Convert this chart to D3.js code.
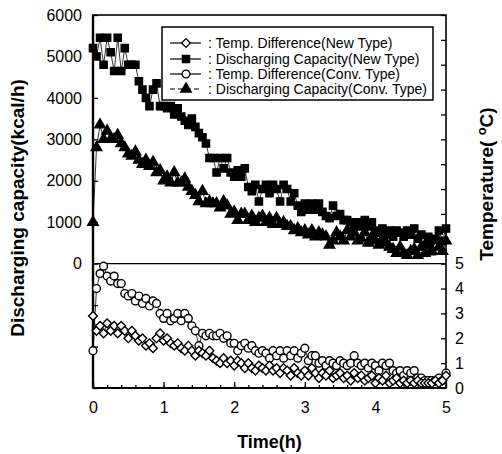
<!DOCTYPE html>
<html>
<head>
<meta charset="utf-8">
<script src="https://cdn.jsdelivr.net/npm/d3@7"></script>
<style>
  body { margin: 0; background: #fff; }
  text { font-family: "Liberation Sans", Arial, sans-serif; fill: #000; }
</style>
</head>
<body>
<div id="chart"></div>
<script>
// time step 0.05 h, 0 .. 5 h
const time = d3.range(0, 101).map(i => i * 0.05);

const capNew = [5200,5000,5450,4800,5450,5100,4650,5450,4650,5200,
  4800,4800,4800,4400,4200,4000,3800,4200,4350,3800,
  3800,3750,3800,3600,3750,3550,3450,3350,3500,3300,
  3150,3050,2900,2550,2550,2200,2550,2300,2550,2200,
  2100,2250,2100,2300,1850,1750,1900,1500,1800,1900,
  1700,1900,1800,1500,1900,1800,1500,1700,1400,1250,
  1450,1300,1450,1300,1450,1250,1150,1100,1400,1150,
  1200,1050,1050,1000,900,1000,900,1050,900,1000,
  800,750,850,700,800,650,800,750,650,800,
  700,850,600,700,450,650,300,600,800,550,850];

const capConv = [1000,2800,3350,3000,3200,3000,3000,3100,2900,2800,
  2650,2600,2700,2500,2400,2500,2350,2450,2200,2250,
  2000,2100,1950,2200,1950,1950,2050,1850,1750,1650,
  1500,1750,1450,1500,1450,1450,1350,1500,1400,1200,
  1250,1050,1200,1200,1050,1150,1000,1100,1150,1000,
  1100,950,1100,950,1000,900,900,800,850,750,
  800,700,800,650,750,700,650,450,550,750,
  650,550,800,650,750,550,600,750,500,650,
  550,450,600,500,400,350,250,400,250,200,
  300,350,200,400,250,500,300,550,400,300,550];

const tempConv = [1.5,4.0,4.6,4.9,4.5,4.3,4.5,4.2,4.2,3.8,
  3.7,3.8,3.5,3.7,3.4,3.6,3.3,3.5,3.4,3.0,
  2.8,3.0,2.7,2.8,3.0,2.7,3.0,2.8,2.5,2.3,
  1.7,2.2,2.1,2.2,2.1,2.1,2.2,2.0,2.1,1.8,
  1.8,1.5,1.7,1.8,1.6,1.7,1.5,1.4,1.5,1.4,
  1.2,1.5,1.3,1.5,1.2,1.5,1.3,1.5,1.2,1.4,
  1.6,1.1,1.3,1.3,1.0,1.1,0.9,1.1,1.0,0.9,
  1.1,1.0,0.9,1.0,1.3,1.0,0.9,1.0,0.8,1.0,
  0.9,0.7,1.0,0.9,1.0,0.7,0.6,0.7,0.5,0.7,
  0.6,0.7,0.4,0.4,0.3,0.3,0.3,0.3,0.4,0.3,0.6];

const tempNew = [2.9,2.3,2.5,2.2,2.6,2.3,2.5,2.2,2.5,2.3,
  2.0,2.3,2.1,1.9,2.0,1.7,1.8,1.6,2.0,2.2,
  1.9,2.0,1.8,1.7,1.8,1.6,1.5,1.7,1.5,1.3,
  1.5,1.4,1.3,1.5,1.2,1.1,1.0,1.2,1.0,1.1,
  0.9,1.1,1.0,0.8,1.0,0.8,0.7,0.9,0.8,0.7,
  0.9,0.7,0.8,0.6,0.8,0.7,0.5,0.8,0.6,0.5,
  0.7,0.5,0.8,0.6,0.4,0.6,0.5,0.7,0.4,0.5,
  0.6,0.4,0.5,0.3,0.6,0.4,0.5,0.3,0.4,0.5,
  0.2,0.4,0.3,0.5,0.2,0.3,0.4,0.2,0.3,0.2,
  0.3,0.2,0.3,0.2,0.2,0.2,0.2,0.3,0.2,0.3,0.5];

const capTicks = d3.range(-3000, 6001, 1000);
const tempTicks = d3.range(0, 16, 1);
const timeTicks = [0, 1, 2, 3, 4, 5];
const legendLabels = [
  ": Temp. Difference(New Type)",
  ": Discharging Capacity(New Type)",
  ": Temp. Difference(Conv. Type)",
  ": Discharging Capacity(Conv. Type)"
];

const width = 502, height = 454;
const margin = { left: 93, right: 446, top: 15, bottom: 388 };

const svg = d3.select("#chart").append("svg")
  .attr("width", width)
  .attr("height", height);

const x = d3.scaleLinear().domain([0, 5]).range([margin.left, margin.right]);
const yCap = d3.scaleLinear().domain([-3000, 6000]).range([margin.bottom, margin.top]);
const yTemp = d3.scaleLinear().domain([0, 15]).range([margin.bottom, margin.top]);

// axes
svg.append("g")
  .attr("transform", `translate(${margin.left},0)`)
  .call(d3.axisLeft(yCap).tickValues(capTicks).tickSize(-5).tickSizeOuter(0).tickPadding(11)
    .tickFormat(d => d >= 0 ? d : ""))
  .call(g => g.select(".domain").remove());

svg.append("g")
  .attr("transform", `translate(${margin.right},0)`)
  .call(d3.axisRight(yTemp).tickValues(tempTicks).tickSize(-5).tickSizeOuter(0).tickPadding(9)
    .tickFormat(d => d <= 5 ? d : ""))
  .call(g => g.select(".domain").remove());

svg.append("g")
  .attr("transform", `translate(0,${margin.bottom})`)
  .call(d3.axisBottom(x).tickValues(d3.range(0, 26).map(i => i * 0.2)).tickSize(-3).tickFormat(""))
  .call(g => g.select(".domain").remove());

svg.append("g")
  .attr("transform", `translate(0,${margin.bottom})`)
  .call(d3.axisBottom(x).tickValues(timeTicks).tickSize(-6).tickPadding(14).tickFormat(d3.format("d")))
  .call(g => g.select(".domain").remove());

svg.selectAll(".tick line").attr("stroke", "#000").attr("stroke-width", 1.3);
svg.selectAll(".tick text").style("font-size", "16px").attr("fill", "#000");

// frame and panel separator
svg.append("rect")
  .attr("x", margin.left).attr("y", margin.top)
  .attr("width", margin.right - margin.left).attr("height", margin.bottom - margin.top)
  .attr("fill", "none").attr("stroke", "#000").attr("stroke-width", 1.6);
svg.append("line")
  .attr("x1", margin.left).attr("x2", margin.right)
  .attr("y1", yCap(0)).attr("y2", yCap(0))
  .attr("stroke", "#000").attr("stroke-width", 1.4);
svg.append("line")
  .attr("x1", margin.left).attr("x2", margin.left).attr("y1", margin.top).attr("y2", margin.bottom)
  .attr("stroke", "#000").attr("stroke-width", 2.4);
svg.append("line")
  .attr("x1", margin.left).attr("x2", margin.right).attr("y1", margin.bottom).attr("y2", margin.bottom)
  .attr("stroke", "#000").attr("stroke-width", 2.2);

// series
const series = [
  { values: tempNew, y: yTemp, shape: d3.symbolSquare, size: 38, rotate: 45, fill: "#fff", dash: null },
  { values: capNew, y: yCap, shape: d3.symbolSquare, size: 52, rotate: 0, fill: "#000", dash: null },
  { values: tempConv, y: yTemp, shape: d3.symbolCircle, size: 48, rotate: 0, fill: "#fff", dash: null },
  { values: capConv, y: yCap, shape: d3.symbolTriangle, size: 48, rotate: 0, fill: "#000", dash: "5,3" }
];

const plot = svg.append("g");
const order = [1, 3, 2, 0];
order.forEach(k => {
  const s = series[k];
  plot.append("path")
    .datum(s.values)
    .attr("fill", "none")
    .attr("stroke", "#000")
    .attr("stroke-width", 0.8)
    .attr("d", d3.line().x((d, i) => x(time[i])).y(d => s.y(d)));
});
order.forEach(k => {
  const s = series[k];
  plot.selectAll(null)
    .data(s.values)
    .enter().append("path")
    .attr("transform", (d, i) => `translate(${x(time[i])},${s.y(d)}) rotate(${s.rotate})`)
    .attr("d", d3.symbol().type(s.shape).size(s.size))
    .attr("fill", s.fill)
    .attr("stroke", "#000")
    .attr("stroke-width", 1.4);
});

// legend
const legend = svg.append("g");
legend.append("rect")
  .attr("x", 162).attr("y", 27).attr("width", 271).attr("height", 73)
  .attr("fill", "#fff").attr("stroke", "#000").attr("stroke-width", 1.5);
const rowY = [43, 59, 74, 89];
series.forEach((s, k) => {
  legend.append("line")
    .attr("x1", 170).attr("x2", 201)
    .attr("y1", rowY[k]).attr("y2", rowY[k])
    .attr("stroke", "#000").attr("stroke-width", 1.2)
    .attr("stroke-dasharray", s.dash);
  legend.append("path")
    .attr("transform", `translate(186,${rowY[k]}) rotate(${s.rotate})`)
    .attr("d", d3.symbol().type(s.shape).size(s.size))
    .attr("fill", s.fill)
    .attr("stroke", "#000")
    .attr("stroke-width", 1.3);
  legend.append("text")
    .attr("x", 208).attr("y", rowY[k])
    .attr("dy", "0.35em")
    .style("font-size", "14px")
    .text(legendLabels[k]);
});

// axis titles
svg.append("text")
  .attr("x", (margin.left + margin.right) / 2).attr("y", 448)
  .attr("text-anchor", "middle")
  .style("font-size", "18px").style("font-weight", "bold")
  .text("Time(h)");

svg.append("text")
  .attr("transform", "translate(24,208) rotate(-90)")
  .attr("text-anchor", "middle")
  .style("font-size", "19px").style("font-weight", "bold")
  .text("Discharging capacity(kcal/h)");

const rt = svg.append("text")
  .attr("transform", "translate(493,184) rotate(-90)")
  .attr("text-anchor", "middle")
  .style("font-size", "19px").style("font-weight", "bold");
rt.append("tspan").text("Temperature( ");
rt.append("tspan").attr("dy", -7).style("font-size", "13px").text("o");
rt.append("tspan").attr("dy", 7).text("C)");
</script>
</body>
</html>
